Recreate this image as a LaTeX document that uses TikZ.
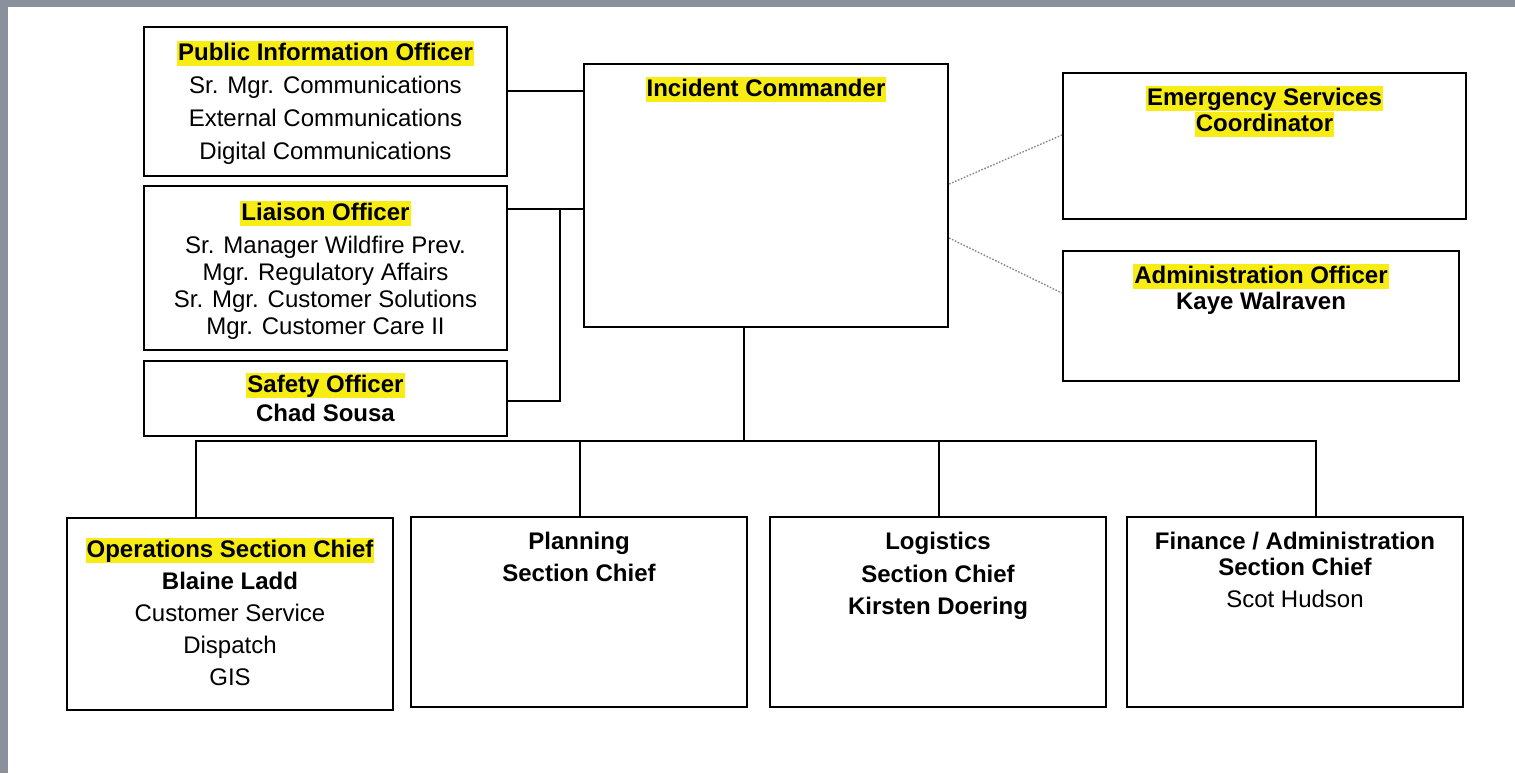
\documentclass[tikz,border=0pt]{standalone}
\usepackage{fontspec}
\setmainfont{Liberation Sans}
\definecolor{hly}{HTML}{F7EC14}
\definecolor{framegray}{HTML}{8B919C}
\definecolor{dotgray}{HTML}{8A8A8A}
\newcommand{\hs}{\rule[-2.5pt]{0pt}{12.5pt}}
\newcommand{\hlt}[1]{{\setlength{\fboxsep}{0pt}\colorbox{hly}{\hs\hspace{0.5pt}#1\hspace{0.5pt}}}}
\tikzset{
  box/.style={draw=black, line width=1.1pt, rectangle, inner sep=0pt, fill=white},
  txt/.style={anchor=north, inner sep=0pt, align=center},
  conn/.style={draw=black, line width=1.1pt},
  dotconn/.style={draw=dotgray, line width=0.7pt, dash pattern=on 0.8pt off 0.8pt},
}
\begin{document}
\begin{tikzpicture}[x=0.5pt, y=-0.5pt]
\useasboundingbox (0,0) rectangle (1515,773);
\fill[white] (0,0) rectangle (1515,773);
\fill[framegray] (0,0) rectangle (1515,7);
\fill[framegray] (0,0) rectangle (8,773);

% boxes
\node[box, minimum width=181.5pt, minimum height=74.5pt] (pio) at (325.5,101.5) {};
\node[box, minimum width=182pt, minimum height=131.5pt] (ic) at (766,195.5) {};
\node[box, minimum width=201.5pt, minimum height=73pt] (esc) at (1264.5,146) {};
\node[box, minimum width=181.5pt, minimum height=82pt] (lia) at (325.5,268) {};
\node[box, minimum width=181.5pt, minimum height=37.5pt] (saf) at (325.5,398.5) {};
\node[box, minimum width=198pt, minimum height=65pt] (adm) at (1261,316) {};
\node[box, minimum width=163pt, minimum height=96pt] (ops) at (230,614) {};
\node[box, minimum width=168pt, minimum height=95pt] (plan) at (579,612) {};
\node[box, minimum width=168pt, minimum height=95pt] (log) at (938,612) {};
\node[box, minimum width=168pt, minimum height=95pt] (fin) at (1295,612) {};

% texts
\node[txt, font=\fontsize{12pt}{16.5pt}\selectfont] (pio-t) at (325.5,40.5)
  {\hs\hlt{\bfseries Public Information Officer}\\ \hs Sr. Mgr. Communications\\ \hs External Communications\\ \hs Digital Communications};
\node[txt, font=\fontsize{12pt}{13pt}\selectfont] (ic-t) at (766,76.5)
  {\hs\hlt{\bfseries Incident Commander}};
\node[txt, font=\fontsize{12pt}{13pt}\selectfont] (esc-t) at (1264.5,85.5)
  {\hs\hlt{\bfseries Emergency Services}\\ \hs\hlt{\bfseries Coordinator}};
\node[txt, font=\fontsize{12pt}{13.5pt}\selectfont] (lia-t) at (325.5,200.5)
  {\hs\hlt{\bfseries Liaison Officer}\\[3pt] \hs Sr. Manager Wildfire Prev.\\ \hs Mgr. Regulatory Affairs\\ \hs Sr. Mgr. Customer Solutions\\ \hs Mgr. Customer Care II};
\node[txt, font=\fontsize{12pt}{14.5pt}\selectfont] (saf-t) at (325.5,372.5)
  {\hs\hlt{\bfseries Safety Officer}\\ \hs\bfseries Chad Sousa};
\node[txt, font=\fontsize{12pt}{13pt}\selectfont] (adm-t) at (1261,263.5)
  {\hs\hlt{\bfseries Administration Officer}\\ \hs\bfseries Kaye Walraven};
\node[txt, font=\fontsize{12pt}{16pt}\selectfont] (ops-t) at (230,537.5)
  {\hs\hlt{\bfseries Operations Section Chief}\\ \hs\bfseries Blaine Ladd\\ \hs Customer Service\\ \hs Dispatch\\ \hs GIS};
\node[txt, font=\fontsize{12pt}{16pt}\selectfont\bfseries] (plan-t) at (579,529.5)
  {\hs Planning\\ \hs Section Chief};
\node[txt, font=\fontsize{12pt}{16.25pt}\selectfont\bfseries] (log-t) at (938,529.5)
  {\hs Logistics\\ \hs Section Chief\\ \hs Kirsten Doering};
\node[txt, font=\fontsize{12pt}{13pt}\selectfont] (fin-t) at (1295,529.5)
  {\hs\bfseries Finance / Administration\\ \hs\bfseries Section Chief\\[3pt] \hs Scot Hudson};

% connectors
\draw[conn] (pio.east |- 0,91) -- (ic.west |- 0,91);
\draw[conn] (lia.east |- 0,209) -- (ic.west |- 0,209);
\coordinate (lj) at (560,209);
\draw[conn] (lj) |- (saf.east |- 0,401);
\coordinate (bus) at (744,441);
\draw[conn] (ic.south -| 744,0) -- (bus);
\draw[conn] (ops.north -| 196,0) |- (bus) -| (fin.north -| 1316,0);
\draw[conn] (plan.north -| 580,0) -- (580,441);
\draw[conn] (log.north -| 939,0) -- (939,441);
\draw[dotconn] (ic.east |- 0,184) -- (esc.west |- 0,135);
\draw[dotconn] (ic.east |- 0,238) -- (adm.west |- 0,293);
\end{tikzpicture}
\end{document}
